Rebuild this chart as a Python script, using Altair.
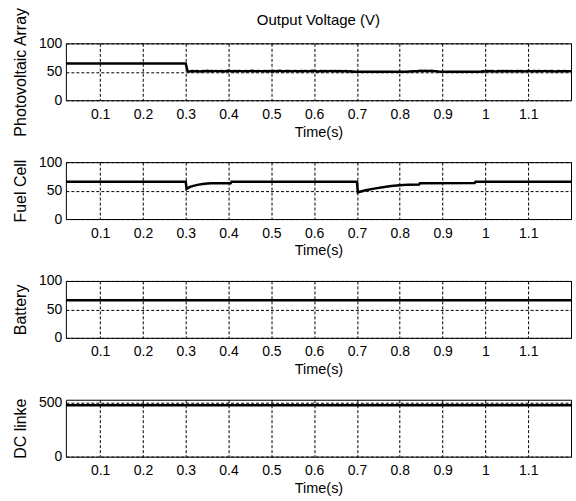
import altair as alt
import pandas as pd

# ---------------- data ----------------
x_ticks = [0.1, 0.2, 0.3, 0.4, 0.5, 0.6, 0.7, 0.8, 0.9, 1.0, 1.1]
x_domain = [0.02, 1.2]

# Photovoltaic array output voltage
pv_pre_t = [0.02, 0.300, 0.302, 0.304, 0.306]
pv_pre_v = [64.5, 64.5, 58.0, 52.0, 50.6]
pv_noise1_start = 0.31   # step 0.005
pv_noise1 = [50.6, 51.2, 50.8, 51.5, 51.0, 50.7, 51.4, 51.1, 51.7, 50.9,
             51.3, 50.8, 51.6, 51.2, 51.0, 51.5, 50.7, 51.3, 51.8, 51.1,
             50.9, 51.4, 51.0, 51.6, 51.2, 50.8, 51.5, 51.1, 51.3, 51.7,
             51.0, 50.8, 51.4, 51.2, 50.9, 51.6, 51.1, 51.3, 50.7, 51.5,
             51.0, 51.4, 51.8, 51.1, 50.8, 51.3, 51.5, 50.9, 51.2, 51.6,
             51.0, 50.8, 51.4, 51.1, 51.5, 51.2, 50.9, 51.7, 51.3, 51.0,
             50.7, 51.4, 51.1, 51.5, 50.9, 51.2, 51.6, 51.0, 51.3, 50.8,
             51.4, 51.1, 50.9, 51.3, 50.7, 51.0, 50.6, 50.2]
pv_flat1_t = [0.70, 0.80]
pv_flat1_v = [50.0, 50.0]
pv_noise2_start = 0.805
pv_noise2 = [50.1, 50.3, 50.2, 50.6, 50.4, 50.9, 51.2, 51.0, 51.5, 51.8,
             51.4, 51.9, 51.6, 51.3, 51.7, 51.2, 50.8, 50.4, 50.1]
pv_flat2_t = [0.90, 0.985]
pv_flat2_v = [50.0, 50.0]
pv_noise3_start = 0.99
pv_noise3 = [50.4, 50.9, 50.6, 51.2, 50.8, 51.4, 51.0, 50.7, 51.3, 51.1,
             51.6, 50.9, 51.2, 50.8, 51.5, 51.1, 50.9, 51.4, 51.0, 51.3,
             50.7, 51.2, 51.5, 51.0, 50.8, 51.3, 51.1, 51.6, 50.9, 51.2,
             51.4, 50.8, 51.1, 51.5, 51.0, 50.7, 51.3, 51.1, 50.9, 51.4,
             51.0, 50.8, 51.2]

# Fuel cell output voltage
fc_t = [0.02, 0.300, 0.302, 0.31, 0.32, 0.33, 0.34, 0.35, 0.36, 0.38, 0.405, 0.407,
        0.70, 0.702, 0.72, 0.74, 0.76, 0.78, 0.80, 0.82, 0.845, 0.847,
        0.975, 0.977, 1.2]
fc_v = [65.5, 65.5, 53.0, 56.5, 58.8, 60.5, 61.6, 62.4, 62.8, 63.0, 63.0, 65.5,
        65.5, 47.0, 50.5, 53.5, 56.0, 58.0, 59.6, 60.5, 60.8, 63.0,
        63.3, 65.5, 65.5]

# Battery output voltage
bat_t = [0.02, 1.2]
bat_v = [66.0, 66.0]

# DC link voltage
dc_t = [0.02, 1.2]
dc_v = [478.0, 478.0]

# ---------------- build tables ----------------
def seq(start, vals):
    return [round(start + 0.005 * i, 4) for i in range(len(vals))]

pv_t = (pv_pre_t + seq(pv_noise1_start, pv_noise1) + pv_flat1_t +
        seq(pv_noise2_start, pv_noise2) + pv_flat2_t + seq(pv_noise3_start, pv_noise3))
pv_v = pv_pre_v + pv_noise1 + pv_flat1_v + pv_noise2 + pv_flat2_v + pv_noise3

FONT = "Liberation Sans"


def panel(t, v, ytitle, ydomain, yvals, title=None):
    df = pd.DataFrame({"t": t, "v": v})
    props = dict(width=506, height=57)
    if title is not None:
        props["title"] = alt.TitleParams(title, fontSize=15, font=FONT, fontWeight="normal",
                                         anchor="middle", frame="group", offset=-21, color="black")
    return alt.Chart(df).mark_line(color="black", strokeWidth=2.5, clip=True).encode(
        x=alt.X("t:Q",
                scale=alt.Scale(domain=x_domain, nice=False, zero=False),
                axis=alt.Axis(values=x_ticks, format="~g", title="Time(s)")),
        y=alt.Y("v:Q",
                scale=alt.Scale(domain=ydomain, nice=False, zero=False),
                axis=alt.Axis(values=yvals, title=ytitle)),
    ).properties(**props)


c1 = panel(pv_t, pv_v, "Photovoltaic Array", [0, 100], [0, 50, 100], title="Output Voltage (V)")
c2 = panel(fc_t, fc_v, "Fuel Cell", [0, 100], [0, 50, 100])
c3 = panel(bat_t, bat_v, "Battery", [0, 100], [0, 50, 100])
c4 = panel(dc_t, dc_v, "DC linke", [0, 530], [0, 500])

chart = alt.vconcat(c1, c2, c3, c4, spacing=62, bounds="flush").properties(
    padding={"left": 12, "top": 6, "right": 4, "bottom": 4},
    background="white",
).configure_view(
    stroke="black", strokeWidth=1
).configure_axis(
    grid=True, gridColor="black", gridDash=[3, 2], gridWidth=1, gridOpacity=1,
    ticks=False, domain=False,
    labelFont=FONT, labelFontSize=14, labelColor="black", labelPadding=7,
    titleFont=FONT, titleFontWeight="normal", titleColor="black",
).configure_axisX(
    titleFontSize=14.5, titlePadding=4, labelFlush=False
).configure_axisY(
    titleFontSize=16, titlePadding=10, labelPadding=4
)

chart.save("out.html", embed_options={"renderer": "svg", "actions": False})
